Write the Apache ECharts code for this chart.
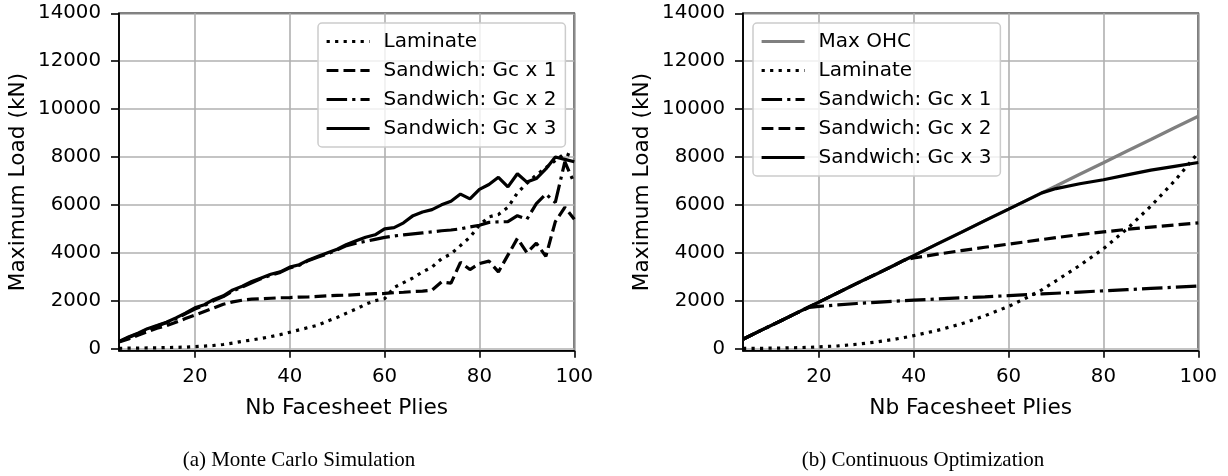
<!DOCTYPE html>
<html><head><meta charset="utf-8">
<script src="https://cdn.jsdelivr.net/npm/echarts@6/dist/echarts.min.js"></script>
<style>html,body{margin:0;padding:0;background:#fff}#c{width:1228px;height:476px}</style>
</head><body><div id="c"></div>
<script>
// ---- Tick labels ----
const xTicks = [20, 40, 60, 80, 100];
const yTicks = [0, 2000, 4000, 6000, 8000, 10000, 12000, 14000];

// ---- (a) Monte Carlo Simulation ----
const pliesMC = [4, 6, 8, 10, 12, 14, 16, 18, 20, 22, 24, 26, 28, 30, 32, 34, 36, 38, 40, 42, 44, 46, 48, 50, 52, 54, 56, 58, 60, 62, 64, 66, 68, 70, 72, 74, 76, 78, 80, 82, 84, 86, 88, 90, 92, 94, 96, 98, 100];
const laminateMC = [10, 15, 20, 25, 30, 40, 50, 60, 80, 100, 130, 170, 230, 300, 360, 420, 500, 580, 680, 780, 880, 980, 1150, 1300, 1480, 1650, 1850, 2000, 2080, 2550, 2750, 2950, 3200, 3400, 3750, 3950, 4300, 4650, 5150, 5500, 5600, 5900, 6500, 6900, 7250, 7550, 7850, 8150, 8000];
const gc1MC = [270, 400, 550, 700, 850, 950, 1100, 1250, 1400, 1550, 1700, 1850, 1950, 2020, 2060, 2080, 2100, 2120, 2130, 2150, 2160, 2180, 2200, 2220, 2230, 2250, 2270, 2290, 2300, 2330, 2350, 2380, 2400, 2440, 2780, 2730, 3600, 3300, 3550, 3650, 3200, 3900, 4600, 4000, 4400, 3850, 5300, 5900, 5400];
const gc2MC = [280, 460, 620, 800, 940, 1080, 1250, 1450, 1650, 1800, 2000, 2170, 2400, 2570, 2750, 2920, 3060, 3180, 3370, 3480, 3680, 3820, 3960, 4120, 4300, 4400, 4480, 4560, 4640, 4700, 4750, 4790, 4830, 4870, 4920, 4950, 5000, 5080, 5150, 5270, 5290, 5300, 5550, 5400, 6050, 6450, 6100, 7800, 6900];
const gc3MC = [300, 480, 640, 830, 960, 1100, 1280, 1480, 1700, 1830, 2050, 2200, 2450, 2600, 2800, 2950, 3100, 3200, 3400, 3500, 3700, 3850, 4000, 4150, 4350, 4500, 4650, 4750, 5000, 5050, 5250, 5550, 5700, 5800, 6000, 6150, 6450, 6250, 6650, 6850, 7150, 6750, 7300, 6950, 7100, 7500, 8000, 7900, 7800];

// ---- (b) Continuous Optimization ----
const pliesCO = [4, 8, 12, 16, 18, 20, 24, 28, 32, 36, 38, 40, 45, 50, 55, 60, 64, 67, 70, 75, 80, 85, 90, 95, 100];
const maxOhcCO = [390, 780, 1160, 1550, 1745, 1940, 2330, 2720, 3100, 3490, 3690, 3880, 4370, 4850, 5340, 5820, 6210, 6500, 6790, 7280, 7760, 8250, 8730, 9220, 9700];
const laminateCO = [5, 10, 20, 40, 50, 70, 110, 180, 270, 390, 460, 540, 760, 1030, 1370, 1760, 2140, 2450, 2830, 3470, 4170, 5000, 5950, 7000, 8180];
const gc1CO = [390, 780, 1160, 1550, 1720, 1760, 1820, 1880, 1930, 1980, 2000, 2020, 2070, 2120, 2160, 2210, 2250, 2280, 2310, 2360, 2410, 2460, 2510, 2560, 2610];
const gc2CO = [390, 780, 1160, 1550, 1745, 1940, 2330, 2720, 3100, 3490, 3690, 3780, 3940, 4090, 4230, 4360, 4470, 4550, 4630, 4760, 4870, 4980, 5070, 5160, 5250];
const gc3CO = [390, 780, 1160, 1550, 1745, 1940, 2330, 2720, 3100, 3490, 3690, 3880, 4370, 4850, 5340, 5820, 6210, 6500, 6680, 6880, 7050, 7250, 7450, 7610, 7770];

const namesMC = ['Laminate', 'Sandwich: Gc x 1', 'Sandwich: Gc x 2', 'Sandwich: Gc x 3'];
const namesCO = ['Max OHC', 'Laminate', 'Sandwich: Gc x 1', 'Sandwich: Gc x 2', 'Sandwich: Gc x 3'];

const FONT = 'DejaVu Sans';
const FS = 19.8;     // tick labels
const FS_NAME = 21.7; // axis titles
const FS_LEG = 20;   // legend
const LW = 3.2;
const DOT = [3.2, 5.3], DASH = [11.8, 5.1], DASHDOT = [20.5, 5.1, 3.2, 5.1];
const CLEAR = 'rgba(0,0,0,0)';

function zip(xs, ys) { return xs.map((x, i) => [x, ys[i]]); }

function xAxisFor(g) {
  return {
    gridIndex: g, type: 'value', min: 4, max: 100,
    name: 'Nb Facesheet Plies', nameLocation: 'middle', nameGap: 47,
    nameTextStyle: { fontSize: FS_NAME, color: '#000', fontFamily: FONT },
    axisLine: { show: true, onZero: false, lineStyle: { color: '#000', width: 1.6 } },
    axisTick: { show: true, inside: false, length: 7, customValues: xTicks, lineStyle: { color: '#000', width: 1.6 } },
    axisLabel: { customValues: xTicks, margin: 16, fontSize: FS, color: '#000', fontFamily: FONT, formatter: v => String(v) },
    splitLine: { show: true, lineStyle: { color: '#b0b0b0', width: 1.6 } }
  };
}
function yAxisFor(g) {
  return {
    gridIndex: g, type: 'value', min: -90, max: 14000,
    name: 'Maximum Load (kN)', nameLocation: 'middle', nameGap: 90,
    nameTextStyle: { fontSize: FS_NAME, color: '#000', fontFamily: FONT },
    axisLine: { show: true, onZero: false, lineStyle: { color: '#000', width: 1.6 } },
    axisTick: { show: true, inside: false, length: 8, customValues: yTicks, lineStyle: { color: '#000', width: 1.6 } },
    axisLabel: { customValues: yTicks, margin: 18, fontSize: FS, color: '#000', fontFamily: FONT, formatter: v => String(v) },
    splitLine: { show: true, lineStyle: { color: '#b0b0b0', width: 1.6 } }
  };
}
function line(name, g, xs, ys, type, color) {
  return {
    name: name, type: 'line', xAxisIndex: g, yAxisIndex: g, data: zip(xs, ys),
    showSymbol: false, symbol: 'none', animation: false, clip: true,
    lineStyle: { color: color || '#000', width: LW, type: type },
    itemStyle: { color: CLEAR, borderWidth: 0, borderColor: CLEAR },
    emphasis: { disabled: true }
  };
}
function legendFor(left, names, prefix) {
  return {
    left: left, top: 23, orient: 'vertical', itemWidth: 43, itemHeight: 14, itemGap: 9,
    padding: [8.5, 9, 8.5, 7], backgroundColor: 'rgba(255,255,255,0.8)', borderColor: '#cccccc',
    borderWidth: 1.5, borderRadius: 4, selectedMode: false,
    itemStyle: { color: CLEAR, borderWidth: 0, borderColor: CLEAR },
    lineStyle: { width: LW },
    data: names.map(n => prefix + n), formatter: n => n.slice(2),
    textStyle: { fontSize: FS_LEG, color: '#000', fontFamily: FONT, lineHeight: 20, padding: [0, 0, 0, 9] }
  };
}

const chart = echarts.init(document.getElementById('c'), null, { renderer: 'canvas' });
chart.setOption({
  animation: false,
  backgroundColor: '#fff',
  grid: [
    { left: 119, top: 13.3, width: 455.3, height: 337.4, show: true, borderColor: '#000', borderWidth: 1.6 },
    { left: 743, top: 13.3, width: 455.3, height: 337.4, show: true, borderColor: '#000', borderWidth: 1.6 }
  ],
  xAxis: [xAxisFor(0), xAxisFor(1)],
  yAxis: [yAxisFor(0), yAxisFor(1)],
  legend: [legendFor(318, namesMC, 'L:'), legendFor(753, namesCO, 'R:')],
  series: [
    line('L:' + namesMC[0], 0, pliesMC, laminateMC, DOT),
    line('L:' + namesMC[1], 0, pliesMC, gc1MC, DASH),
    line('L:' + namesMC[2], 0, pliesMC, gc2MC, DASHDOT),
    line('L:' + namesMC[3], 0, pliesMC, gc3MC, 'solid'),
    line('R:' + namesCO[0], 1, pliesCO, maxOhcCO, 'solid', '#808080'),
    line('R:' + namesCO[1], 1, pliesCO, laminateCO, DOT),
    line('R:' + namesCO[2], 1, pliesCO, gc1CO, DASHDOT),
    line('R:' + namesCO[3], 1, pliesCO, gc2CO, DASH),
    line('R:' + namesCO[4], 1, pliesCO, gc3CO, 'solid')
  ],
  graphic: [
    { type: 'text', x: 299, y: 460, style: { text: '(a) Monte Carlo Simulation', fontSize: 21, fontFamily: 'Liberation Serif', fill: '#000', align: 'center', verticalAlign: 'middle' } },
    { type: 'text', x: 923, y: 460, style: { text: '(b) Continuous Optimization', fontSize: 21, fontFamily: 'Liberation Serif', fill: '#000', align: 'center', verticalAlign: 'middle' } }
  ]
});
</script></body></html>
